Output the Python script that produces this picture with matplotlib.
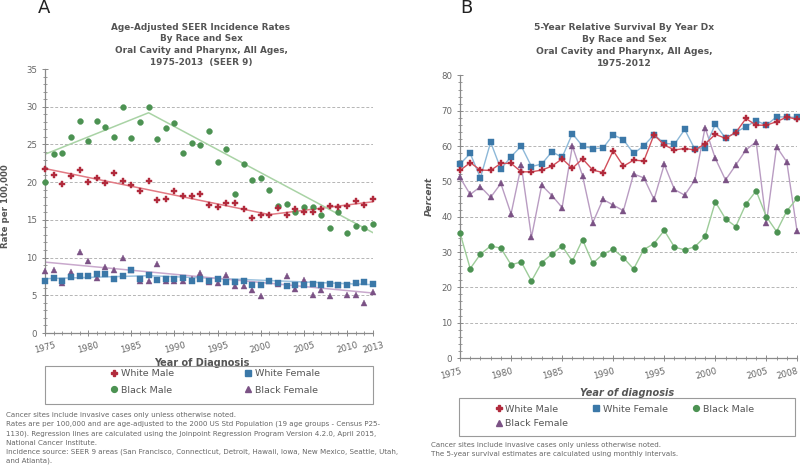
import matplotlib
matplotlib.use("Agg")
import matplotlib.pyplot as plt
from matplotlib.lines import Line2D
from matplotlib.patches import Rectangle
from matplotlib.ticker import MultipleLocator, FixedLocator

# ---------- panel A: incidence rates (SEER 9) ----------
years_a = list(range(1975, 2014))
inc_white_male = [21.7, 20.9, 19.8, 20.8, 21.6, 20.0, 20.5, 19.9, 21.2, 20.1,
                  19.6, 18.8, 20.1, 17.6, 17.7, 18.8, 18.2, 18.1, 18.4, 17.0,
                  16.7, 17.3, 17.2, 16.4, 15.3, 15.6, 15.6, 16.6, 15.6, 16.4,
                  16.1, 16.0, 16.5, 16.9, 16.7, 16.8, 17.5, 17.0, 17.7]
inc_white_female = [6.9, 7.35, 6.9, 7.4, 7.6, 7.5, 7.8, 7.8, 7.2, 7.6,
                    8.3, 7.2, 7.65, 7.0, 7.2, 7.2, 7.35, 6.9, 7.2, 6.9,
                    7.2, 6.8, 6.8, 6.9, 6.3, 6.4, 6.9, 6.6, 6.2, 6.3,
                    6.35, 6.55, 6.3, 6.5, 6.35, 6.35, 6.6, 6.7, 6.5]
inc_black_male = [20.0, 23.7, 23.8, 26.0, 28.1, 25.5, 28.1, 27.3, 26.0, 30.0,
                  25.8, 28.0, 30.0, 25.7, 27.2, 27.9, 23.8, 25.2, 24.9, 26.8,
                  22.7, 24.4, 18.4, 22.4, 20.3, 20.6, 19.0, 16.9, 17.1, 16.0,
                  16.7, 16.7, 15.6, 13.9, 16.1, 13.3, 14.2, 13.9, 14.5]
inc_black_female = [8.2, 8.4, 6.6, 8.1, 10.8, 9.5, 7.3, 8.7, 8.3, 10.0,
                    8.3, 6.9, 6.9, 9.1, 6.9, 6.9, 6.9, 7.2, 8.0, 6.8,
                    6.6, 7.7, 6.2, 6.2, 5.7, 4.9, 6.9, 6.5, 7.6, 5.8,
                    7.0, 5.1, 5.7, 4.9, 6.3, 5.1, 5.0, 4.0, 5.4]

# joinpoint regression lines (segment end points)
jp_white_male_years, jp_white_male = [1975, 2001, 2013], [21.8, 15.7, 17.4]
jp_white_female_years, jp_white_female = [1975, 1987, 2013], [7.2, 7.6, 6.4]
jp_black_male_years, jp_black_male = [1975, 1987, 2013], [23.7, 29.2, 13.3]
jp_black_female_years, jp_black_female = [1975, 2013], [9.4, 5.3]

# ---------- panel B: 5-year relative survival ----------
years_b = list(range(1975, 2009))
surv_white_male = [53.1, 55.3, 53.2, 53.1, 55.1, 55.1, 52.7, 52.7, 53.2, 54.3,
                   56.4, 53.7, 56.4, 53.2, 52.5, 58.7, 54.3, 56.0, 55.8, 63.2,
                   60.3, 58.9, 59.3, 58.9, 60.6, 63.3, 62.2, 63.8, 67.8, 65.9,
                   65.9, 66.9, 68.2, 67.6]
surv_white_female = [54.9, 57.9, 51.0, 61.1, 53.5, 57.0, 60.0, 54.2, 54.9, 58.4,
                     56.8, 63.5, 60.0, 59.3, 59.4, 63.2, 61.8, 57.9, 60.1, 63.2,
                     60.8, 60.5, 64.7, 59.1, 59.5, 66.2, 62.2, 63.9, 65.5, 67.2,
                     65.9, 68.3, 68.2, 68.1]
surv_black_male = [35.4, 25.3, 29.4, 31.7, 31.1, 26.4, 27.2, 21.8, 27.0, 29.4,
                   31.7, 27.4, 33.5, 26.8, 29.4, 30.8, 28.4, 25.2, 30.7, 32.4,
                   36.1, 31.4, 30.6, 31.5, 34.4, 44.2, 39.4, 37.2, 43.6, 47.3,
                   40.0, 35.8, 41.6, 45.2]
surv_black_female = [51.1, 46.3, 48.5, 45.5, 49.4, 40.8, 54.5, 34.2, 48.9, 46.0,
                     42.6, 60.0, 51.6, 38.3, 44.9, 43.3, 41.7, 52.1, 51.0, 44.9,
                     54.8, 47.7, 46.1, 50.4, 65.2, 56.5, 50.4, 54.6, 58.9, 61.2,
                     38.1, 59.8, 55.5, 36.0]

labels = ["White Male", "White Female", "Black Male", "Black Female"]
markers = ["P", "s", "o", "^"]
msizes = [4.4, 3.8, 4.2, 4.4]
dot_colors = ["#b12a3c", "#3b78a8", "#4c9252", "#7b5285"]
fit_colors = ["#e27a84", "#9dc3df", "#a9d3a5", "#c9a9cd"]
conn_colors = ["#d2505c", "#8db8d8", "#9dcc99", "#b99cc2"]

txt = "#555555"
tick_col = "#666666"

fig = plt.figure(figsize=(8, 4.65), dpi=100)
W, H = 800.0, 465.0


def fx(px):
    return px / W


def fy(py):
    return 1 - py / H


def style_axes(ax, ymax, ystep, xha):
    for s in ["top", "right"]:
        ax.spines[s].set_visible(False)
    for s in ["left", "bottom"]:
        ax.spines[s].set_color("#8a8a8a")
        ax.spines[s].set_linewidth(0.9)
    ax.set_ylim(0, ymax)
    ax.yaxis.set_major_locator(MultipleLocator(ystep))
    ax.yaxis.set_minor_locator(MultipleLocator(ystep / 5))
    ax.xaxis.set_minor_locator(MultipleLocator(1))
    ax.tick_params(axis="both", which="major", colors="#8a8a8a", labelcolor=tick_col,
                   labelsize=6.2, length=4, width=0.7, direction="inout")
    ax.tick_params(axis="both", which="minor", colors="#8a8a8a", length=2.5,
                   width=0.6, direction="inout")
    for v in range(ystep, ymax, ystep):
        ax.axhline(v, color="#b5b5b5", lw=0.7, ls=(0, (3, 2)), zorder=0)
    for lab in ax.get_xticklabels():
        lab.set_rotation(15)
        lab.set_ha(xha)
        if xha == "right":
            lab.set_rotation_mode("anchor")


# ---------------- Panel A ----------------
axA = fig.add_axes([fx(45), fy(333), fx(328), 264 / H])
axA.set_xlim(1975, 2013)
axA.xaxis.set_major_locator(FixedLocator([1975, 1980, 1985, 1990, 1995, 2000, 2005, 2010, 2013]))
style_axes(axA, 35, 5, "center")
jp_years = [jp_white_male_years, jp_white_female_years, jp_black_male_years, jp_black_female_years]
jp_vals = [jp_white_male, jp_white_female, jp_black_male, jp_black_female]
inc = [inc_white_male, inc_white_female, inc_black_male, inc_black_female]
for i in range(4):
    axA.plot(jp_years[i], jp_vals[i], color=fit_colors[i], lw=1.1, zorder=2)
for i in [3, 2, 0, 1]:
    axA.plot(years_a, inc[i], ls="none", marker=markers[i], ms=msizes[i],
             color=dot_colors[i], mec=dot_colors[i], mew=0.3, clip_on=False, zorder=3)
axA.set_xlabel("Year of Diagnosis", fontsize=7, fontweight="bold", color=txt, labelpad=2)
axA.xaxis.set_label_coords(157 / 328, -25 / 264)
axA.set_ylabel("Rate per 100,000", fontsize=6.2, fontweight="bold", color=txt)
axA.yaxis.set_label_coords(-35 / 328, 0.48)

# ---------------- Panel B ----------------
axB = fig.add_axes([fx(460), fy(358), fx(337), 282.6 / H])
axB.set_xlim(1975, 2008)
axB.xaxis.set_major_locator(FixedLocator([1975, 1980, 1985, 1990, 1995, 2000, 2005, 2008]))
style_axes(axB, 80, 10, "right")
axB.tick_params(axis="x", which="major", pad=4)
surv = [surv_white_male, surv_white_female, surv_black_male, surv_black_female]
for i in [3, 2, 1, 0]:
    axB.plot(years_b, surv[i], color=conn_colors[i], lw=1.0, marker=markers[i],
             ms=msizes[i], mfc=dot_colors[i], mec=dot_colors[i], mew=0.3,
             clip_on=False, zorder=3)
axB.set_xlabel("Year of diagnosis", fontsize=7, fontweight="bold", style="italic", color=txt)
axB.xaxis.set_label_coords(167 / 337, -30 / 282.6)
axB.set_ylabel("Percent", fontsize=6.5, fontweight="bold", style="italic", color=txt)
axB.yaxis.set_label_coords(-26 / 337, 0.57)

# ---------------- titles ----------------
fig.text(fx(38), fy(8), "A", fontsize=13, color="#222222", va="center", ha="left")
fig.text(fx(460), fy(8), "B", fontsize=13, color="#222222", va="center", ha="left")

title_a = ["Age-Adjusted SEER Incidence Rates", "By Race and Sex",
           "Oral Cavity and Pharynx, All Ages,", "1975-2013  (SEER 9)"]
title_b = ["5-Year Relative Survival By Year Dx", "By Race and Sex",
           "Oral Cavity and Pharynx, All Ages,", "1975-2012"]
for k, line in enumerate(title_a):
    fig.text(fx(201), fy(27 + k * 11.7), line, fontsize=6.4, fontweight="bold",
             color=txt, ha="center", va="center")
for k, line in enumerate(title_b):
    fig.text(fx(624), fy(28 + k * 11.7), line, fontsize=6.6, fontweight="bold",
             color=txt, ha="center", va="center")

# ---------------- legends ----------------
handles = [Line2D([], [], ls="none", marker=markers[i], ms=msizes[i],
                  color=dot_colors[i]) for i in range(4)]
order_a = [0, 2, 1, 3]
fig.legend([handles[i] for i in order_a], [labels[i] for i in order_a],
           loc="center", bbox_to_anchor=(fx(215), fy(382)), ncol=2, frameon=False,
           fontsize=6.8, labelcolor=txt, handlelength=0.8, handletextpad=0.3,
           columnspacing=7.5, labelspacing=0.75, borderpad=0)
fig.patches.append(Rectangle((fx(45), fy(404)), fx(328), 38 / H, transform=fig.transFigure,
                             fill=False, ec="#9a9a9a", lw=0.8))

order_b = [0, 3, 1, 2]
fig.legend([handles[i] for i in order_b], [labels[i] for i in order_b],
           loc="upper left", bbox_to_anchor=(fx(490), fy(400)), ncol=3, frameon=False,
           fontsize=6.8, labelcolor=txt, handlelength=0.8, handletextpad=0.3,
           columnspacing=2.6, labelspacing=0.6, borderpad=0)
fig.patches.append(Rectangle((fx(459), fy(436)), fx(336), 38 / H, transform=fig.transFigure,
                             fill=False, ec="#9a9a9a", lw=0.8))

# ---------------- footnotes ----------------
notes_a = ["Cancer sites include invasive cases only unless otherwise noted.",
           "Rates are per 100,000 and are age-adjusted to the 2000 US Std Population (19 age groups - Census P25-",
           "1130). Regression lines are calculated using the Joinpoint Regression Program Version 4.2.0, April 2015,",
           "National Cancer Institute.",
           "Incidence source: SEER 9 areas (San Francisco, Connecticut, Detroit, Hawaii, Iowa, New Mexico, Seattle, Utah,",
           "and Atlanta)."]
for k, line in enumerate(notes_a):
    fig.text(fx(6), fy(415 + k * 9.2), line, fontsize=5.1, color="#666666",
             ha="left", va="center")
notes_b = ["Cancer sites include invasive cases only unless otherwise noted.",
           "The 5-year survival estimates are calculated using monthly intervals."]
for k, line in enumerate(notes_b):
    fig.text(fx(431), fy(445 + k * 9.2), line, fontsize=5.1, color="#666666",
             ha="left", va="center")

fig.savefig("out.png", dpi=100, facecolor="white")
